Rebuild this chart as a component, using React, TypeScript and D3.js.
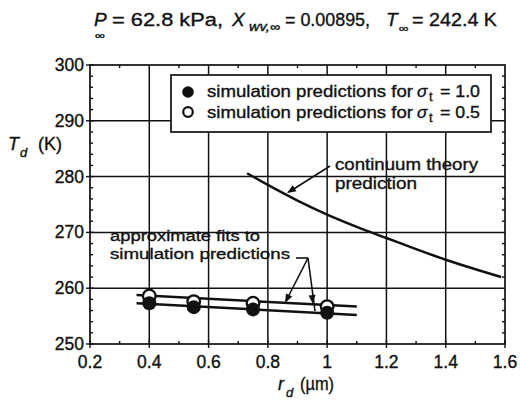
import React from "react";
import * as d3 from "d3";

// values
const xTicks = [0.2, 0.4, 0.6, 0.8, 1, 1.2, 1.4, 1.6];
const xTickLabels = ["0.2", "0.4", "0.6", "0.8", "1", "1.2", "1.4", "1.6"];
const yTicks = [250, 260, 270, 280, 290, 300];
const simRadius = [0.4, 0.55, 0.75, 1.0];
const simSigma10 = [257.3, 256.6, 256.2, 255.6];
const simSigma05 = [258.6, 257.6, 257.3, 256.7];
const fitSigma10 = [[0.357, 257.3], [1.1, 255.2]];
const fitSigma05 = [[0.357, 258.8], [1.1, 256.7]];
const continuumR = [0.73, 0.8, 0.9, 1.0, 1.1, 1.2, 1.3, 1.4, 1.5, 1.587];
const continuumT = [280.6, 278.5, 275.7, 273.2, 271.0, 269.0, 267.0, 265.1, 263.4, 262.0];

const W = 520;
const H = 405;
const FONT = "'Liberation Sans', Arial, Helvetica, sans-serif";
const INK = "#111";

// text stretched to the width it has in the scan
function T({ x, y, w, size = 16, italic = false, anchor = "start", children }: any) {
  return (
    <text
      x={x}
      y={y}
      fontSize={size}
      fontStyle={italic ? "italic" : "normal"}
      textAnchor={anchor}
      textLength={w}
      lengthAdjust={w ? "spacingAndGlyphs" : undefined}
      fill={INK}
      stroke={INK}
      strokeWidth={0.35}
    >
      {children}
    </text>
  );
}

export default function App() {
  const x = d3.scaleLinear().domain([0.2, 1.6]).range([90, 505]);
  const y = d3.scaleLinear().domain([250, 300]).range([344, 65]);
  const [x0, x1] = x.range();
  const [y0, y1] = y.range();

  const line = d3
    .line<number[]>()
    .x((d) => x(d[0]))
    .y((d) => y(d[1]));
  const curve = d3
    .line<number[]>()
    .x((d) => x(d[0]))
    .y((d) => y(d[1]))
    .curve(d3.curveMonotoneX);

  const xMinor = d3.range(0.3, 1.6, 0.2);
  const yMinor = d3.range(250, 300, 2).filter((v) => v % 10 !== 0);
  const gridX = xTicks.slice(1, -1);
  const gridY = yTicks.slice(1, -1);

  const arrowHead = (fx: number, fy: number, tx: number, ty: number, len = 9, wid = 3.5) => {
    const a = Math.atan2(ty - fy, tx - fx);
    const bx = tx - len * Math.cos(a);
    const by = ty - len * Math.sin(a);
    const px = -Math.sin(a) * wid;
    const py = Math.cos(a) * wid;
    return `M${tx},${ty}L${bx + px},${by + py}L${bx - px},${by - py}Z`;
  };

  return (
    <svg
      width={W}
      height={H}
      style={{ position: "absolute", left: 0, top: 0, background: "#fff" }}
      fontFamily={FONT}
    >
      <rect width={W} height={H} fill="#fff" />

      {/* title */}
      <T x={94} y={26} size={19} italic>P</T>
      <T x={95} y={39} size={10} w={10}>∞</T>
      <T x={112} y={26} size={19} w={111}>= 62.8 kPa,</T>
      <T x={232} y={26} size={19} italic>X</T>
      <T x={249} y={31} size={12} w={31} italic>wv,∞</T>
      <T x={285} y={26} size={19} w={85}>= 0.00895,</T>
      <T x={386} y={26} size={19} italic>T</T>
      <T x={399} y={32} size={11} w={10}>∞</T>
      <T x={412} y={26} size={19} w={85}>= 242.4 K</T>

      {/* grid */}
      <g stroke={INK} strokeWidth={1.5}>
        {gridX.map((v) => (
          <line key={"gx" + v} x1={x(v)} x2={x(v)} y1={y0} y2={y1} />
        ))}
        {gridY.map((v) => (
          <line key={"gy" + v} x1={x0} x2={x1} y1={y(v)} y2={y(v)} />
        ))}
      </g>

      {/* frame and ticks */}
      <rect x={x0} y={y1} width={x1 - x0} height={y0 - y1} fill="none" stroke={INK} strokeWidth={1.7} />
      <g stroke={INK} strokeWidth={1.4}>
        {xTicks.map((v) => (
          <line key={"xt" + v} x1={x(v)} x2={x(v)} y1={y0 - 4} y2={y0 + 4} />
        ))}
        {xMinor.map((v) => (
          <line key={"xm" + v} x1={x(v)} x2={x(v)} y1={y0} y2={y0 - 3} />
        ))}
        {xMinor.map((v) => (
          <line key={"xmt" + v} x1={x(v)} x2={x(v)} y1={y1} y2={y1 + 3} />
        ))}
        {yTicks.map((v) => (
          <line key={"yt" + v} x1={x0 - 4} x2={x0 + 4} y1={y(v)} y2={y(v)} />
        ))}
        {yMinor.map((v) => (
          <line key={"ym" + v} x1={x0} x2={x0 + 3} y1={y(v)} y2={y(v)} />
        ))}
        {yMinor.map((v) => (
          <line key={"ymr" + v} x1={x1} x2={x1 - 3} y1={y(v)} y2={y(v)} />
        ))}
      </g>

      {/* tick labels */}
      {xTicks.map((v, i) => (
        <T key={"xl" + v} x={x(v)} y={368} size={17.5} anchor="middle">
          {xTickLabels[i]}
        </T>
      ))}
      {yTicks.map((v) => (
        <T key={"yl" + v} x={84} y={y(v) + 6} size={17.5} anchor="end">
          {v}
        </T>
      ))}

      {/* axis titles */}
      <T x={8} y={150} size={18} italic>T</T>
      <T x={20} y={157} size={13} italic>d</T>
      <T x={38} y={150} size={18} w={24}>(K)</T>
      <T x={278} y={390} size={18} italic>r</T>
      <T x={286} y={397} size={13} italic>d</T>
      <T x={300} y={390} size={18} w={34}>(µm)</T>

      {/* legend */}
      <rect x={171} y={75} width={320} height={57} fill="#fff" stroke={INK} strokeWidth={1.7} />
      <circle cx={188} cy={92} r={5.8} fill={INK} />
      <circle cx={188} cy={112} r={4.8} fill="#fff" stroke={INK} strokeWidth={2.2} />
      <T x={207} y={97} size={16.5} w={206}>simulation predictions for</T>
      <T x={417} y={97} size={17} italic>σ</T>
      <T x={429} y={101} size={13}>t</T>
      <T x={440} y={97} size={16.5} w={40}>= 1.0</T>
      <T x={207} y={118} size={16.5} w={206}>simulation predictions for</T>
      <T x={417} y={118} size={17} italic>σ</T>
      <T x={429} y={122} size={13}>t</T>
      <T x={440} y={118} size={16.5} w={40}>= 0.5</T>

      {/* continuum theory */}
      <path
        d={curve(continuumR.map((r, i) => [r, continuumT[i]])) || ""}
        fill="none"
        stroke={INK}
        strokeWidth={2.5}
      />
      <line x1={330} y1={166} x2={289} y2={192} stroke={INK} strokeWidth={1.6} />
      <path d={arrowHead(330, 166, 287, 193)} fill={INK} />
      <T x={335} y={170} size={16.5} w={143}>continuum theory</T>
      <T x={335} y={189} size={16.5} w={82}>prediction</T>

      {/* fits */}
      <path d={line(fitSigma05) || ""} fill="none" stroke={INK} strokeWidth={2.5} />
      <path d={line(fitSigma10) || ""} fill="none" stroke={INK} strokeWidth={2.5} />

      {/* markers */}
      {simRadius.map((r, i) => (
        <circle key={"o" + r} cx={x(r)} cy={y(simSigma05[i])} r={6.3} fill="#fff" stroke={INK} strokeWidth={2.3} />
      ))}
      {simRadius.map((r, i) => (
        <circle key={"f" + r} cx={x(r)} cy={y(simSigma10[i])} r={7} fill={INK} />
      ))}

      {/* fit annotation */}
      <T x={110} y={241} size={15.5} w={150}>approximate fits to</T>
      <T x={110} y={259} size={15.5} w={180}>simulation predictions</T>
      <g stroke={INK} strokeWidth={1.6} fill="none">
        <line x1={296} y1={258} x2={308} y2={258} />
        <line x1={308} y1={258} x2={286} y2={301} />
        <line x1={308} y1={258} x2={315} y2={311} />
      </g>
      <path d={arrowHead(308, 258, 285, 303)} fill={INK} />
      <path d={arrowHead(308, 258, 313, 304)} fill={INK} />
    </svg>
  );
}
